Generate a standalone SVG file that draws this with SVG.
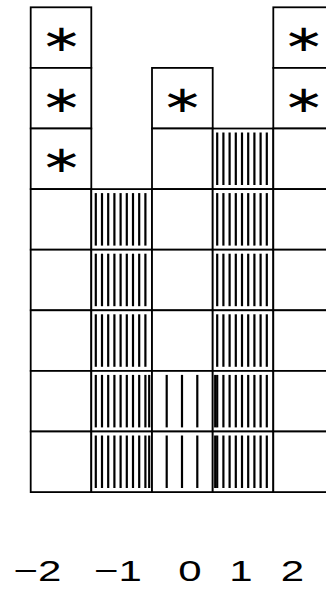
<svg xmlns="http://www.w3.org/2000/svg" xmlns:xlink="http://www.w3.org/1999/xlink" width="326" height="591" viewBox="0 0 326 591">
<style>
.cell{fill:#fff;stroke:#000;stroke-width:1.8}
.h{stroke:#000;stroke-width:2.2}
.ast{font-family:"DejaVu Sans",sans-serif;font-size:37px;text-anchor:middle}
.lab{font-family:"Liberation Sans",Arial,sans-serif;font-size:30px;text-anchor:middle}
</style>
<defs>
<g id="dense">
<line class="h" x1="4.5" y1="4" x2="4.5" y2="56.5"/>
<line class="h" x1="10.7" y1="4" x2="10.7" y2="56.5"/>
<line class="h" x1="16.9" y1="4" x2="16.9" y2="56.5"/>
<line class="h" x1="23.1" y1="4" x2="23.1" y2="56.5"/>
<line class="h" x1="29.3" y1="4" x2="29.3" y2="56.5"/>
<line class="h" x1="35.5" y1="4" x2="35.5" y2="56.5"/>
<line class="h" x1="41.7" y1="4" x2="41.7" y2="56.5"/>
<line class="h" x1="47.9" y1="4" x2="47.9" y2="56.5"/>
<line class="h" x1="54.1" y1="4" x2="54.1" y2="56.5"/>
</g>
<g id="sparse">
<line class="h" x1="14.7" y1="4" x2="14.7" y2="56.5"/>
<line class="h" x1="30" y1="4" x2="30" y2="56.5"/>
<line class="h" x1="45.3" y1="4" x2="45.3" y2="56.5"/>
</g>
</defs>

<g id="col-m2">
<rect class="cell" x="30.7" y="7.3" width="60.6" height="60.6"/>
<rect class="cell" x="30.7" y="67.9" width="60.6" height="60.6"/>
<rect class="cell" x="30.7" y="128.5" width="60.6" height="60.6"/>
<rect class="cell" x="30.7" y="189.1" width="60.6" height="60.6"/>
<rect class="cell" x="30.7" y="249.7" width="60.6" height="60.6"/>
<rect class="cell" x="30.7" y="310.3" width="60.6" height="60.6"/>
<rect class="cell" x="30.7" y="370.9" width="60.6" height="60.6"/>
<rect class="cell" x="30.7" y="431.5" width="60.6" height="60.6"/>
<text class="ast" transform="translate(61.5,51) scale(1.35,1)">∗</text>
<text class="ast" transform="translate(61.5,111.6) scale(1.35,1)">∗</text>
<text class="ast" transform="translate(61.5,172.2) scale(1.35,1)">∗</text>
</g>

<g id="col-m1">
<rect class="cell" x="91.3" y="189.1" width="60.7" height="60.6"/>
<rect class="cell" x="91.3" y="249.7" width="60.7" height="60.6"/>
<rect class="cell" x="91.3" y="310.3" width="60.7" height="60.6"/>
<rect class="cell" x="91.3" y="370.9" width="60.7" height="60.6"/>
<rect class="cell" x="91.3" y="431.5" width="60.7" height="60.6"/>
<use xlink:href="#dense" x="91.3" y="189.1"/>
<use xlink:href="#dense" x="91.3" y="249.7"/>
<use xlink:href="#dense" x="91.3" y="310.3"/>
<use xlink:href="#dense" x="91.3" y="370.9"/>
<use xlink:href="#dense" x="91.3" y="431.5"/>
<line class="h" x1="149.2" y1="374.9" x2="149.2" y2="427.4"/>
<line class="h" x1="149.2" y1="435.5" x2="149.2" y2="488"/>
</g>

<g id="col-0">
<rect class="cell" x="152" y="67.9" width="60.7" height="60.6"/>
<rect class="cell" x="152" y="128.5" width="60.7" height="60.6"/>
<rect class="cell" x="152" y="189.1" width="60.7" height="60.6"/>
<rect class="cell" x="152" y="249.7" width="60.7" height="60.6"/>
<rect class="cell" x="152" y="310.3" width="60.7" height="60.6"/>
<rect class="cell" x="152" y="370.9" width="60.7" height="60.6"/>
<rect class="cell" x="152" y="431.5" width="60.7" height="60.6"/>
<text class="ast" transform="translate(182.3,111.6) scale(1.35,1)">∗</text>
<use xlink:href="#sparse" x="152" y="370.9"/>
<use xlink:href="#sparse" x="152" y="431.5"/>
</g>

<g id="col-1">
<rect class="cell" x="212.7" y="128.5" width="60.6" height="60.6"/>
<rect class="cell" x="212.7" y="189.1" width="60.6" height="60.6"/>
<rect class="cell" x="212.7" y="249.7" width="60.6" height="60.6"/>
<rect class="cell" x="212.7" y="310.3" width="60.6" height="60.6"/>
<rect class="cell" x="212.7" y="370.9" width="60.6" height="60.6"/>
<rect class="cell" x="212.7" y="431.5" width="60.6" height="60.6"/>
<use xlink:href="#dense" x="212.7" y="128.5"/>
<use xlink:href="#dense" x="212.7" y="189.1"/>
<use xlink:href="#dense" x="212.7" y="249.7"/>
<use xlink:href="#dense" x="212.7" y="310.3"/>
<use xlink:href="#dense" x="212.7" y="370.9"/>
<use xlink:href="#dense" x="212.7" y="431.5"/>
<line class="h" x1="215.2" y1="374.9" x2="215.2" y2="427.4"/>
<line class="h" x1="215.2" y1="435.5" x2="215.2" y2="488"/>
</g>

<g id="col-2">
<rect class="cell" x="273.3" y="7.3" width="60.6" height="60.6"/>
<rect class="cell" x="273.3" y="67.9" width="60.6" height="60.6"/>
<rect class="cell" x="273.3" y="128.5" width="60.6" height="60.6"/>
<rect class="cell" x="273.3" y="189.1" width="60.6" height="60.6"/>
<rect class="cell" x="273.3" y="249.7" width="60.6" height="60.6"/>
<rect class="cell" x="273.3" y="310.3" width="60.6" height="60.6"/>
<rect class="cell" x="273.3" y="370.9" width="60.6" height="60.6"/>
<rect class="cell" x="273.3" y="431.5" width="60.6" height="60.6"/>
<text class="ast" transform="translate(303.6,51) scale(1.35,1)">∗</text>
<text class="ast" transform="translate(303.6,111.6) scale(1.35,1)">∗</text>
</g>

<g id="labels">
<text class="lab" transform="translate(37.5,581) scale(1.4,1)">−2</text>
<text class="lab" transform="translate(118,581) scale(1.4,1)">−1</text>
<text class="lab" transform="translate(190,581) scale(1.4,1)">0</text>
<text class="lab" transform="translate(241,581) scale(1.4,1)">1</text>
<text class="lab" transform="translate(292.5,581) scale(1.4,1)">2</text>
</g>
</svg>
